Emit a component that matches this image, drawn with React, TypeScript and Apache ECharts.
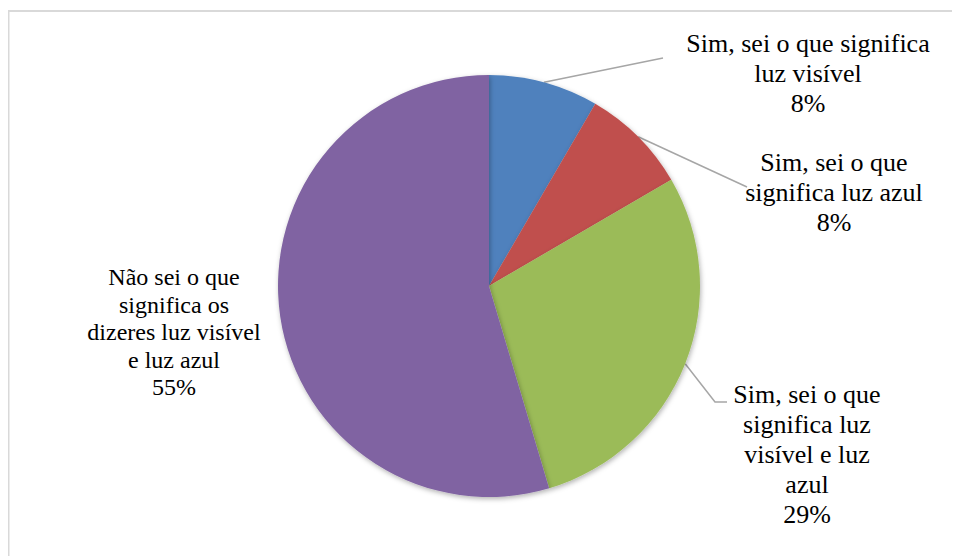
import React, { useEffect, useRef } from "react";
import * as echarts from "echarts";

const categories = [
  "Sim, sei o que significa\nluz visível",
  "Sim, sei o que\nsignifica luz azul",
  "Sim, sei o que\nsignifica luz\nvisível e luz\nazul",
  "Não sei o que\nsignifica os\ndizeres luz visível\ne luz azul",
];
const values = [8.4, 8.2, 28.8, 54.6];
const colors = ["#4F81BD", "#C0504D", "#9BBB59", "#8064A2"];
const labelPos = [
  [800, 65],
  [826, 184],
  [799, 446],
  [166, 324],
];
const lineEnds: number[][][] = [
  [[655, 50]],
  [[739, 179]],
  [[707, 394], [719, 394]],
  [],
];

const SERIF = "Liberation Serif";

export default function App() {
  const ref = useRef<HTMLDivElement>(null);
  useEffect(() => {
    if (!ref.current) return;
    const chart = echarts.init(ref.current, undefined, { renderer: "svg" });
    chart.setOption({
      animation: false,
      backgroundColor: "#ffffff",
      textStyle: { fontFamily: SERIF },
      graphic: [
        {
          type: "rect",
          shape: { x: 0.5, y: 3, width: 2000, height: 2000 },
          style: { fill: "none", stroke: "#d9d9d9", lineWidth: 2 },
          silent: true,
        },
      ],
      series: [
        {
          type: "pie",
          center: [481, 278],
          radius: [0, 211],
          startAngle: 90,
          clockwise: true,
          avoidLabelOverlap: false,
          itemStyle: {
            shadowBlur: 5,
            shadowColor: "rgba(0,0,0,0.3)",
            shadowOffsetX: 1,
            shadowOffsetY: 2,
          },
          label: {
            show: true,
            formatter: (p: any) => {
              const key = p.dataIndex === 3 ? "s" : "b";
              const text = `${p.name}\n${Math.round(p.percent)}%`;
              return text
                .split("\n")
                .map((ln: string) => `{${key}|${ln}}`)
                .join("\n");
            },
            fontFamily: SERIF,
            fontSize: 26,
            lineHeight: 30,
            color: "#000000",
            align: "center",
            rich: {
              b: { fontFamily: SERIF, fontSize: 26, lineHeight: 30, color: "#000000", align: "center" },
              s: { fontFamily: SERIF, fontSize: 24, lineHeight: 27.5, color: "#000000", align: "center" },
            },
          },
          labelLine: {
            show: true,
            lineStyle: { color: "#a6a6a6", width: 1.5 },
          },
          labelLayout: (params: any) => {
            const i = params.dataIndex;
            const res: any = {
              x: labelPos[i][0],
              y: labelPos[i][1],
              align: "center",
              verticalAlign: "middle",
            };
            if (params.labelLinePoints && lineEnds[i].length) {
              res.labelLinePoints = [params.labelLinePoints[0], ...lineEnds[i]];
            }
            return res;
          },
          data: categories.map((name, i) => ({
            name,
            value: values[i],
            itemStyle: { color: colors[i] },
            labelLine: i === 3 ? { show: false } : undefined,
          })),
        },
      ],
    });
    return () => chart.dispose();
  }, []);
  return <div ref={ref} style={{ width: 952, height: 548 }} />;
}
